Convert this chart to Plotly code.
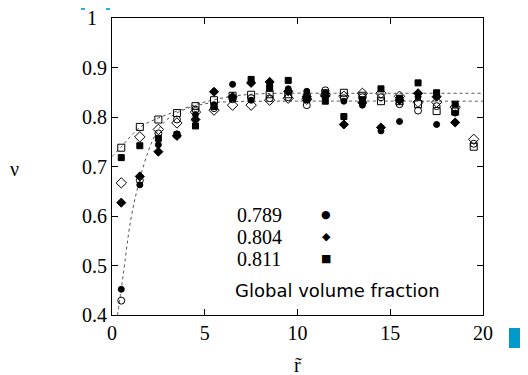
import plotly.graph_objects as go

# distance bins (r tilde)
r = [0.5, 1.5, 2.5, 3.5, 4.5, 5.5, 6.5, 7.5, 8.5, 9.5,
     10.5, 11.5, 12.5, 13.5, 14.5, 15.5, 16.5, 17.5, 18.5, 19.5]

# filled symbols (legend: global volume fraction)
v_0789 = [0.452, 0.663, 0.744, 0.766, 0.805, 0.825, 0.866, 0.834, 0.864, 0.857,
          0.852, 0.849, 0.832, 0.824, 0.772, 0.791, 0.841, 0.785, 0.808, None]
v_0804 = [0.627, 0.680, 0.730, 0.762, 0.795, 0.851, 0.841, 0.869, 0.871, 0.852,
          0.841, 0.842, 0.785, 0.829, 0.779, 0.834, 0.848, 0.841, 0.789, None]
v_0811 = [0.718, 0.742, 0.757, 0.764, 0.782, 0.821, 0.838, 0.876, 0.858, 0.874,
          0.835, 0.832, 0.801, 0.835, 0.857, 0.838, 0.869, 0.849, 0.826, None]

# open symbols
o_circle = [0.429, 0.672, 0.767, 0.795, 0.815, 0.818, 0.836, 0.838, 0.838, 0.840,
            0.824, 0.854, 0.838, 0.840, 0.840, 0.826, 0.813, 0.822, 0.815, 0.746]
o_diamond = [0.667, 0.760, 0.775, 0.788, 0.810, 0.814, 0.824, 0.824, 0.834, 0.838,
             0.836, 0.845, 0.842, 0.848, 0.848, 0.842, 0.830, 0.830, 0.820, 0.755]
o_square = [0.738, 0.780, 0.795, 0.808, 0.822, 0.834, 0.843, 0.845, 0.846, 0.846,
            0.840, 0.848, 0.849, 0.843, 0.832, 0.832, 0.826, 0.812, 0.811, 0.740]

# dashed fit curves
fit_hi_r = [0.0, 0.5, 1.5, 2.5, 3.5, 4.5, 5.5, 6.5, 7.5, 9.0, 12.0, 20.0]
fit_hi_v = [0.720, 0.740, 0.779, 0.798, 0.812, 0.825, 0.835, 0.842, 0.846, 0.848, 0.848, 0.848]
fit_lo_r = [0.3, 0.6, 1.0, 1.4, 1.9, 2.3, 2.75, 3.3, 4.1, 5.2, 6.5, 9.0, 20.0]
fit_lo_v = [0.400, 0.480, 0.590, 0.660, 0.725, 0.762, 0.787, 0.804, 0.818, 0.828, 0.831, 0.832, 0.832]

legend_labels = ["0.789", "0.804", "0.811"]
legend_glyphs = ["\u25cf", "\u25c6", "\u25a0"]
x_ticks = [0, 5, 10, 15, 20]
y_ticks = [0.4, 0.5, 0.6, 0.7, 0.8, 0.9, 1.0]
y_ticktext = ["0.4", "0.5", "0.6", "0.7", "0.8", "0.9", ""]
top_label = "1"

fig = go.Figure()
line_style = dict(color="#555555", width=1, dash="dot")
fig.add_trace(go.Scatter(x=fit_hi_r, y=fit_hi_v, mode="lines", line=line_style,
                         line_shape="spline", showlegend=False, hoverinfo="skip"))
fig.add_trace(go.Scatter(x=fit_lo_r, y=fit_lo_v, mode="lines", line=line_style,
                         line_shape="spline", showlegend=False, hoverinfo="skip"))

def add(vals, symbol, size):
    fig.add_trace(go.Scatter(x=r, y=vals, mode="markers", showlegend=False,
                             marker=dict(symbol=symbol, size=size, color="black",
                                         line=dict(color="black", width=1))))

add(o_circle, "circle-open", 7)
add(o_diamond, "diamond-open", 8)
add(o_square, "square-open", 7)
add(v_0789, "circle", 6)
add(v_0804, "diamond", 7)
add(v_0811, "square", 6)

serif = "Liberation Serif"
axis_common = dict(showline=True, linecolor="black", linewidth=1, mirror="ticks",
                   ticks="inside", ticklen=6, tickcolor="black", showgrid=False,
                   zeroline=False, tickfont=dict(family=serif, size=20, color="black"))
fig.update_xaxes(range=[0, 20.0001], tickvals=x_ticks, ticktext=[str(t) for t in x_ticks], **axis_common)
fig.update_yaxes(range=[0.4, 1.0001], tickvals=y_ticks, ticktext=y_ticktext, **axis_common)

ann = []
ys = [0.337, 0.263, 0.189]
for lab, gl, yy in zip(legend_labels, legend_glyphs, ys):
    ann.append(dict(x=0.332, y=yy, xref="paper", yref="paper", text=lab, showarrow=False,
                    xanchor="left", yanchor="middle", font=dict(family=serif, size=20, color="black")))
    ann.append(dict(x=0.577, y=yy, xref="paper", yref="paper", text=gl, showarrow=False,
                    xanchor="center", yanchor="middle", font=dict(family="DejaVu Sans", size=11, color="black")))
ann.append(dict(x=0.326, y=0.084, xref="paper", yref="paper", text="Global volume fraction",
                showarrow=False, xanchor="left", yanchor="middle",
                font=dict(family="DejaVu Sans", size=18, color="black")))
ann.append(dict(x=-0.262, y=0.49, xref="paper", yref="paper", text="\u03bd", showarrow=False,
                xanchor="center", yanchor="middle", font=dict(family=serif, size=20, color="black")))
ann.append(dict(x=0.5, y=-0.168, xref="paper", yref="paper", text="r\u0303", showarrow=False,
                xanchor="center", yanchor="middle", font=dict(family=serif, size=20, color="black")))
ann.append(dict(x=-0.035, y=1.0, xref="paper", yref="paper", text=top_label, showarrow=False,
                xanchor="right", yanchor="middle", font=dict(family=serif, size=20, color="black")))

shapes = [
    dict(type="rect", xref="paper", yref="paper", x0=(501 - 104) / 371, x1=(528 - 104) / 371,
         y0=(307 - 340) / 297, y1=(307 - 320) / 297, fillcolor="#0099cc", line=dict(width=0)),
    dict(type="rect", xref="paper", yref="paper", x0=(73 - 104) / 371, x1=(77 - 104) / 371,
         y0=(307 - 2) / 297, y1=(307 - 0) / 297, fillcolor="#33aadd", line=dict(width=0)),
    dict(type="rect", xref="paper", yref="paper", x0=(98 - 104) / 371, x1=(102 - 104) / 371,
         y0=(307 - 2) / 297, y1=(307 - 0) / 297, fillcolor="#33aadd", line=dict(width=0)),
]

fig.update_layout(width=528, height=375, margin=dict(l=104, r=53, t=10, b=68),
                  paper_bgcolor="white", plot_bgcolor="white", showlegend=False,
                  annotations=ann, shapes=shapes)

fig.write_html("out.html")
